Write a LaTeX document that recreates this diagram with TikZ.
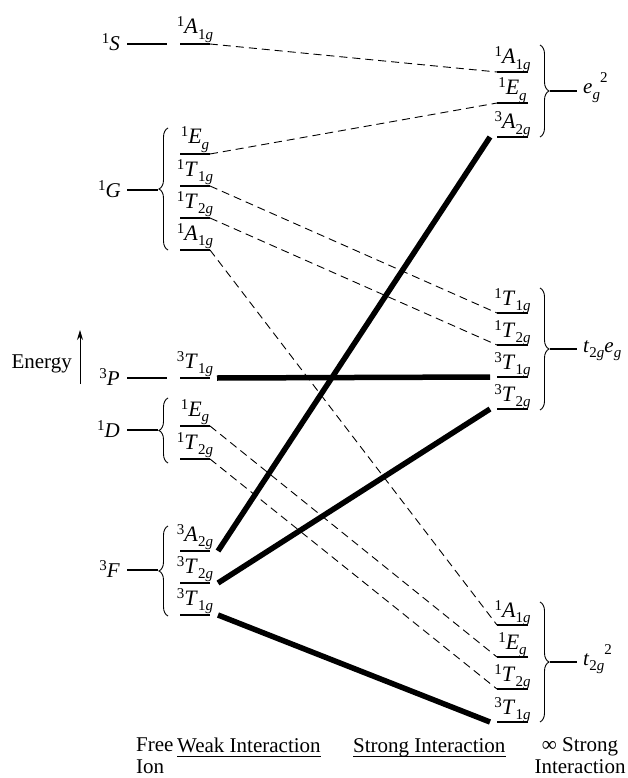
\documentclass[tikz,border=0pt]{standalone}
\usepackage{fontspec}
\setmainfont{Liberation Serif}
\usetikzlibrary{arrows.meta,decorations.pathreplacing}
\newcommand{\hisc}[2][7pt]{\raisebox{#1}{\fontsize{15}{15}\selectfont#2}}
\newcommand{\losc}[1]{\raisebox{-5.5pt}{\fontsize{15}{15}\selectfont#1}}
\newcommand{\tsym}[3]{\hisc{#1}\textit{#2}\losc{#3\textit{g}}}
\tikzset{
  lvl/.style={line width=2.6pt},
  corr/.style={line width=0.9pt,dash pattern=on 8pt off 5pt},
  strong/.style={line width=5.5pt},
  brc/.style={decorate,decoration={brace,amplitude=9pt},line width=0.9pt},
  lab/.style={inner sep=0pt,font=\fontsize{21}{22}\selectfont},
  lvlab/.style={lab,font=\fontsize{22}{22}\selectfont,anchor=base}
}
\begin{document}
\begin{tikzpicture}[x=1pt,y=-1pt]
            \useasboundingbox(0,0)rectangle(627,778);
            \foreach\y/\nm/\lb in {44/wSa/{\tsym{1}{A}{1}},154/wGe/{\tsym{1}{E}{}},186/wGta/{\tsym{1}{T}{1}},218/wGtb/{\tsym{1}{T}{2}},250/wGa/{\tsym{1}{A}{1}},378/wPt/{\tsym{3}{T}{1}},426/wDe/{\tsym{1}{E}{}},459/wDt/{\tsym{1}{T}{2}},551/wFa/{\tsym{3}{A}{2}},583/wFtb/{\tsym{3}{T}{2}},615/wFta/{\tsym{3}{T}{1}}}{
              \draw[lvl](180,\y)--(210,\y)coordinate(\nm);
              \node[lvlab](l\nm)at(195,\y-10){\lb};
            }
            \foreach\y/\nm/\lb in {72/sEa/{\tsym{1}{A}{1}},103/sEe/{\tsym{1}{E}{}},137/sEat/{\tsym{3}{A}{2}},313/sMta/{\tsym{1}{T}{1}},345/sMtb/{\tsym{1}{T}{2}},377/sMtc/{\tsym{3}{T}{1}},409/sMtd/{\tsym{3}{T}{2}},625/sTa/{\tsym{1}{A}{1}},657/sTe/{\tsym{1}{E}{}},689/sTtb/{\tsym{1}{T}{2}},722/sTta/{\tsym{3}{T}{1}}}{
              \draw[lvl](528,\y)--(497,\y)coordinate(\nm);
              \node[lvlab](l\nm)at(512.5,\y-8){\lb};
            }
            \node[lab,anchor=base east](fS)at(120,51){\hisc{1}\textit{S}};
            \draw[lvl](127,44)--(167,44);
            \node[lab,anchor=base east](fG)at(121,197){\hisc{1}\textit{G}};
            \draw[lvl](127,190)--(158,190);
            \draw[brc](168,250)--(168,128);
            \node[lab,anchor=base east](fP)at(120,385){\hisc{3}\textit{P}};
            \draw[lvl](127,378)--(167,378);
            \node[lab,anchor=base east](fD)at(120,437){\hisc{1}\textit{D}};
            \draw[lvl](127,430)--(158,430);
            \draw[brc](168,463)--(168,398);
            \node[lab,anchor=base east](fF)at(120,577){\hisc{3}\textit{F}};
            \draw[lvl](127,570)--(158,570);
            \draw[brc](168,616)--(168,526);
            \draw[brc](540,45)--(540,137);
            \draw[lvl](550,91)--(577,91);
            \node[lab,anchor=base west](cE)at(583,94){\textit{e}\losc{\textit{g}}\hisc[11pt]{2}};
            \draw[brc](540,288)--(540,410);
            \draw[lvl](550,349)--(577,349);
            \node[lab,anchor=base west](cM)at(583,352){\textit{t}\losc{2\textit{g}}\textit{e}\losc{\textit{g}}};
            \draw[brc](540,602)--(540,722);
            \draw[lvl](550,662)--(577,662);
            \node[lab,anchor=base west](cT)at(583,665){\textit{t}\losc{2\textit{g}}\hisc[11pt]{2}};
            \draw[corr](wSa)--(sEa);
            \draw[corr](wGe)--(sEe);
            \draw[corr](wGta)--(sMta);
            \draw[corr](wGtb)--(sMtb);
            \draw[corr](wGa)--(sTa);
            \draw[corr](wDe)--(sTe);
            \draw[corr](wDt)--(sTtb);
            \draw[strong]([xshift=7]wPt)--([xshift=-7]sMtc);
            \draw[strong]([xshift=8]wFa)--([xshift=-7]sEat);
            \draw[strong]([xshift=8]wFtb)--([xshift=-7]sMtd);
            \draw[strong]([xshift=8]wFta)--([xshift=-7]sTta);
            \node[lab,anchor=base east](en)at(72,368){Energy};
            \draw[-{Stealth[length=10pt,width=6pt]},line width=0.9pt](80,384)--(80,330);
            \node[lab,anchor=base west,align=left](fi)at(136,773){Free\\Ion};
            \node[lab,anchor=base west](wk)at(177,752){Weak Interaction};
            \draw[line width=0.8pt]([yshift=-4]wk.base west)--([yshift=-4]wk.base east);
            \node[lab,anchor=base west](st)at(353,752){Strong Interaction};
            \draw[line width=0.8pt]([yshift=-4]st.base west)--([yshift=-4]st.base east);
            \node[lab,anchor=base,align=center](is)at(580,773){∞ Strong\\Interaction};
\end{tikzpicture}
\end{document}
